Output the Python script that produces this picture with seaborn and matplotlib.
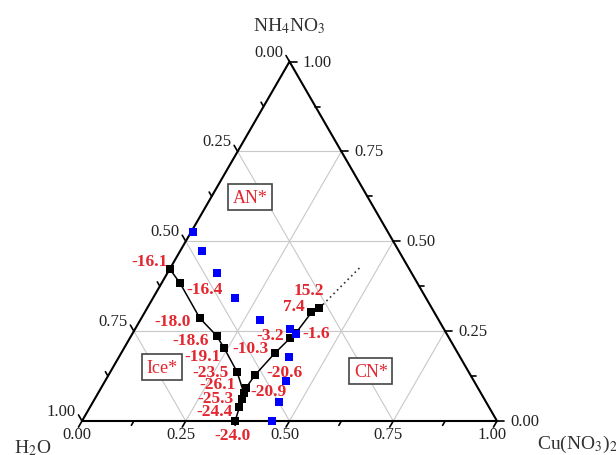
import numpy as np
import pandas as pd
import matplotlib
matplotlib.use("Agg")
import matplotlib.pyplot as plt
import seaborn as sns


# Mass fractions: Cu(NO3)2 and NH4NO3 (water is the rest)

# ice / AN* boundary, down to the eutectic
left_cu = [0.000, 0.044, 0.141, 0.206, 0.242, 0.305, 0.351]
left_an = [0.423, 0.384, 0.286, 0.237, 0.202, 0.137, 0.078]
left_t = ["-16.1", "-16.4", "-18.0", "-18.6", "-19.1", "-23.5", "-26.1"]

# ice / CN* boundary, eutectic down to the binary side
bottom_cu = [0.351, 0.354, 0.360, 0.369]
bottom_an = [0.078, 0.061, 0.039, 0.000]
bottom_t = ["", "-25.3", "-24.4", "-24.0"]

# AN* / CN* boundary, eutectic upwards
right_cu = [0.351, 0.349, 0.353, 0.370, 0.386, 0.393, 0.402, 0.415]
right_an = [0.078, 0.092, 0.128, 0.188, 0.230, 0.245, 0.302, 0.314]
right_t = ["", "-20.9", "-20.6", "-10.3", "-3.2", "-1.6", "7.4", "15.2"]

# dotted extrapolation of the AN*/CN* line
extra_cu = [0.415, 0.458]
extra_an = [0.314, 0.432]

# blue points
blue_cu = [0.004, 0.053, 0.119, 0.199, 0.289, 0.373, 0.394, 0.411, 0.437, 0.449, 0.458]
blue_an = [0.527, 0.473, 0.412, 0.341, 0.282, 0.256, 0.242, 0.177, 0.110, 0.053, 0.000]

# region names with (Cu, NH4NO3) position
regions = ["AN*", "Ice*", "CN*"]
region_cu = [0.093, 0.117, 0.627]
region_an = [0.623, 0.150, 0.138]

ticks = [0.0, 0.25, 0.5, 0.75, 1.0]
minor = [0.125, 0.375, 0.625, 0.875]

# label offsets in pixels (right, up)
left_off = [(-20, 8), (25, -6), (-27, -3), (-26, -4), (-22, -8), (-27, 0), (-26, 9)]
bottom_off = [(0, 0), (-26, 1), (-25, -4), (-3, -14)]
right_off = [(0, 0), (23, -3), (29, 3), (-24, 5), (-20, 3), (20, 0), (-18, 6), (-11, 18)]


S3 = np.sqrt(3) / 2


def to_xy(cu, an):
    cu = np.asarray(cu, dtype=float)
    an = np.asarray(an, dtype=float)
    return cu + an / 2, an * S3


def frame(cu, an):
    x, y = to_xy(cu, an)
    return pd.DataFrame({"x": x, "y": y})


sns.set_style("white")
plt.rcParams["font.family"] = ["Liberation Serif", "DejaVu Serif"]
plt.rcParams["mathtext.fontset"] = "stix"

fig = plt.figure(figsize=(6.16, 4.56), dpi=100)
ax = fig.add_axes([0, 0, 1, 1])
ax.set_xlim(-82 / 415, 534 / 415)
ax.set_ylim(-34 / 415, 422 / 415)
ax.axis("off")

# grid
grid_kw = dict(color="#c8c8c8", lw=0.8, zorder=1)
for v in [0.25, 0.5, 0.75]:
    x, y = to_xy([0, 1 - v], [v, v])
    ax.plot(x, y, **grid_kw)
    x, y = to_xy([v, v], [0, 1 - v])
    ax.plot(x, y, **grid_kw)
    x, y = to_xy([1 - v, 0], [0, 1 - v])
    ax.plot(x, y, **grid_kw)

# triangle
x, y = to_xy([0, 1, 0, 0], [0, 0, 1, 0])
ax.plot(x, y, color="black", lw=1.5, zorder=2, solid_joinstyle="miter")

# ticks
px = 1 / 415
for vals, ln in [(ticks, 7 * px), (minor, 5 * px)]:
    for v in vals:
        # bottom axis (Cu(NO3)2)
        x, y = to_xy(v, 0)
        ax.plot([x, x - 0.5 * ln], [y, y - S3 * ln], color="black", lw=1.2, zorder=2)
        # right axis (NH4NO3)
        x, y = to_xy(1 - v, v)
        ax.plot([x, x + ln], [y, y], color="black", lw=1.2, zorder=2)
        # left axis (H2O)
        x, y = to_xy(0, 1 - v)
        ax.plot([x, x - 0.5 * ln], [y, y + S3 * ln], color="black", lw=1.2, zorder=2)

tick_kw = dict(fontsize=12, color="#222222")
for v in ticks:
    x, y = to_xy(v, 0)
    ax.annotate(f"{v:.2f}", (x, y), xytext=(-5, -13), textcoords="offset pixels",
                ha="center", va="center", **tick_kw)
    x, y = to_xy(1 - v, v)
    ax.annotate(f"{v:.2f}", (x, y), xytext=(13, 0), textcoords="offset pixels",
                ha="left", va="center", **tick_kw)
    x, y = to_xy(0, 1 - v)
    ax.annotate(f"{v:.2f}", (x, y), xytext=(-6, 10), textcoords="offset pixels",
                ha="right", va="center", **tick_kw)

# corner names
ax.text(0.5, 0.954, r"NH$_4$NO$_3$", ha="center", va="center", fontsize=14, color="#333333")
ax.text(-0.12, -0.062, r"H$_2$O", ha="center", va="center", fontsize=14, color="#333333")
ax.text(1.096, -0.053, r"Cu(NO$_3$)$_2$", ha="left", va="center", fontsize=14, color="#333333")

# boundary lines
for cu, an in [(left_cu, left_an), (bottom_cu, bottom_an), (right_cu, right_an)]:
    sns.lineplot(data=frame(cu, an), x="x", y="y", sort=False, estimator=None,
                 color="black", lw=1.1, ax=ax, zorder=3)
sns.lineplot(data=frame(extra_cu, extra_an), x="x", y="y", sort=False, estimator=None,
             color="#333333", lw=1.2, linestyle=(0, (1, 2)), ax=ax, zorder=3)

black = pd.concat([frame(left_cu, left_an), frame(bottom_cu, bottom_an),
                   frame(right_cu, right_an)], ignore_index=True)
sns.scatterplot(data=black, x="x", y="y", marker="s", s=34, color="black",
                linewidth=0, ax=ax, zorder=4)
sns.scatterplot(data=frame(blue_cu, blue_an), x="x", y="y", marker="s", s=30,
                color="#0000ff", linewidth=0, ax=ax, zorder=5)

# temperature labels
red = "#e3262f"
for cu, an, labels, offs in [(left_cu, left_an, left_t, left_off),
                             (bottom_cu, bottom_an, bottom_t, bottom_off),
                             (right_cu, right_an, right_t, right_off)]:
    xs, ys = to_xy(cu, an)
    for x, y, t, o in zip(xs, ys, labels, offs):
        if t:
            ax.annotate(t, (x, y), xytext=o, textcoords="offset pixels",
                        ha="center", va="center", fontsize=12.5, fontweight="bold",
                        color=red, zorder=6)

# region boxes
xs, ys = to_xy(region_cu, region_an)
for x, y, name in zip(xs, ys, regions):
    ax.text(x, y, name, ha="center", va="center", fontsize=13, color=red, zorder=6,
            bbox=dict(boxstyle="square,pad=0.25", fc="white", ec="#444444", lw=1.2))

ax.set_xlabel("")
ax.set_ylabel("")
plt.savefig("out.png", dpi=100)
